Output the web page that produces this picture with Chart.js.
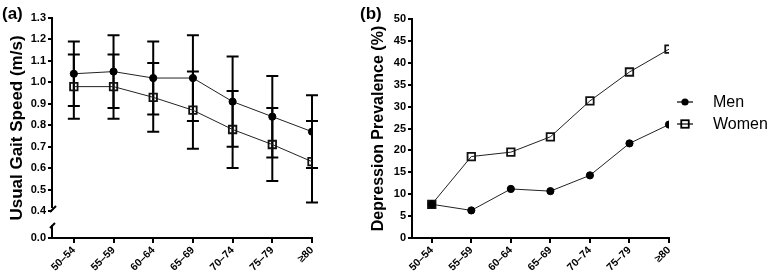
<!DOCTYPE html>
<html>
<head>
<meta charset="utf-8">
<script src="https://cdn.jsdelivr.net/npm/chart.js@4.4.1/dist/chart.umd.min.js"></script>
<style>
  html, body { margin: 0; padding: 0; background: #fff; }
  #wrap { position: relative; width: 770px; height: 278px; }
  #ca { position: absolute; left: 0; top: 0; }
  #cb { position: absolute; left: 340px; top: 0; }
</style>
</head>
<body>
<div id="wrap">
  <canvas id="ca" width="340" height="278"></canvas>
  <canvas id="cb" width="430" height="278"></canvas>
</div>
<script>
const ageGroups = ["50\u201354", "55\u201359", "60\u201364", "65\u201369", "70\u201374", "75\u201379", "\u226580"];

// (a) usual gait speed, mean and SD
const gaitMen = [1.04, 1.05, 1.02, 1.02, 0.91, 0.84, 0.77];
const gaitMenSD = [0.15, 0.17, 0.17, 0.20, 0.21, 0.19, 0.17];
const gaitWomen = [0.98, 0.98, 0.93, 0.87, 0.78, 0.71, 0.63];
const gaitWomenSD = [0.15, 0.15, 0.16, 0.18, 0.18, 0.17, 0.19];
const gaitTicks = [0.4, 0.5, 0.6, 0.7, 0.8, 0.9, 1.0, 1.1, 1.2, 1.3];

// (b) depression prevalence, %
const depMen = [7.7, 6.3, 11.2, 10.7, 14.3, 21.6, 25.9];
const depWomen = [7.7, 18.6, 19.6, 23.1, 31.3, 37.9, 43.1];
const depTicks = [0, 5, 10, 15, 20, 25, 30, 35, 40, 45, 50];

// value used as the "0.0" position below the axis break
const BREAK_VALUE = 0.274;

const FONT = "'Liberation Sans', Arial, sans-serif";
const toXY = (arr) => arr.map((v, i) => ({ x: i, y: v }));

function xScale(min) {
  return {
    type: "linear",
    min: min,
    max: ageGroups.length - 1,
    afterBuildTicks: (s) => { s.ticks = ageGroups.map((_, i) => ({ value: i })); },
    afterFit: (s) => { s.height = 40; },
    ticks: {
      callback: (v) => ageGroups[v],
      minRotation: 45,
      maxRotation: 45,
      padding: 1,
      color: "#000",
      font: { family: FONT, size: 10.5, weight: "bold" },
    },
    grid: { drawOnChartArea: false, drawTicks: true, tickLength: 5, color: "#000", lineWidth: 2 },
    border: { display: true, color: "#000", width: 2 },
  };
}

function menSet(data) {
  return {
    label: "Men", data: data,
    borderColor: "#222", borderWidth: 1,
    pointStyle: "circle", pointRadius: 3.6, pointBorderWidth: 1,
    pointBackgroundColor: "#000", pointBorderColor: "#000",
  };
}
function womenSet(data) {
  return {
    label: "Women", data: data,
    borderColor: "#222", borderWidth: 1,
    pointStyle: "rect", pointRadius: 5.3, pointBorderWidth: 1.8,
    pointBackgroundColor: "rgba(0,0,0,0)", pointBorderColor: "#111",
  };
}

const panelLabel = (text, x) => ({
  id: "panelLabel",
  afterDraw(chart) {
    const ctx = chart.ctx;
    ctx.save();
    ctx.fillStyle = "#000";
    ctx.font = "bold 17px " + FONT;
    ctx.textBaseline = "alphabetic";
    ctx.fillText(text, x, 19);
    ctx.restore();
  },
});

const errorBars = {
  id: "errorBars",
  beforeDatasetsDraw(chart) {
    const ctx = chart.ctx;
    const ys = chart.scales.y;
    const xs = chart.scales.x;
    const sets = [[gaitMen, gaitMenSD], [gaitWomen, gaitWomenSD]];
    ctx.save();
    ctx.strokeStyle = "#000";
    ctx.lineWidth = 2;
    sets.forEach(([m, sd]) => {
      m.forEach((v, i) => {
        const x = xs.getPixelForValue(i);
        const top = ys.getPixelForValue(v + sd[i]);
        const bot = ys.getPixelForValue(v - sd[i]);
        ctx.beginPath();
        ctx.moveTo(x, top); ctx.lineTo(x, bot);
        ctx.moveTo(x - 6, top); ctx.lineTo(x + 6, top);
        ctx.moveTo(x - 6, bot); ctx.lineTo(x + 6, bot);
        ctx.stroke();
      });
    });
    ctx.restore();
  },
};

const brokenAxis = {
  id: "brokenAxis",
  afterDraw(chart) {
    const ctx = chart.ctx;
    const ys = chart.scales.y;
    const x = chart.chartArea.left;
    const y04 = ys.getPixelForValue(0.4);
    const y0 = ys.getPixelForValue(BREAK_VALUE);
    ctx.save();
    ctx.strokeStyle = "#000";
    ctx.lineWidth = 2;
    ctx.beginPath();
    ctx.moveTo(x, chart.chartArea.top - 1);
    ctx.lineTo(x, y04 - 3);
    ctx.moveTo(x - 2, y04 + 1);
    ctx.lineTo(x + 4, y04 - 5);
    ctx.moveTo(x - 2, y0 - 10);
    ctx.lineTo(x + 3, y0 - 15);
    ctx.moveTo(x, y0 - 13);
    ctx.lineTo(x, y0 + 1);
    ctx.stroke();
    ctx.restore();
  },
};

new Chart(document.getElementById("ca"), {
  type: "line",
  data: { datasets: [menSet(toXY(gaitMen)), womenSet(toXY(gaitWomen))] },
  options: {
    responsive: false,
    animation: false,
    layout: { padding: { top: 18, right: 28, left: 0, bottom: 0 } },
    plugins: { legend: { display: false }, tooltip: { enabled: false } },
    scales: {
      x: xScale(-0.55),
      y: {
        type: "linear",
        min: BREAK_VALUE,
        max: 1.3,
        afterBuildTicks: (s) => { s.ticks = [BREAK_VALUE, ...gaitTicks].map((v) => ({ value: v })); },
        afterFit: (s) => { s.width = 52; },
        ticks: {
          callback: (v) => (v === BREAK_VALUE ? "0.0" : v.toFixed(1)),
          padding: 2,
          color: "#000",
          font: { family: FONT, size: 11, weight: "bold" },
        },
        grid: { drawOnChartArea: false, drawTicks: true, tickLength: 4, color: "#000", lineWidth: 2 },
        border: { display: false },
        title: {
          display: true,
          text: "Usual Gait Speed (m/s)",
          color: "#000",
          font: { family: FONT, size: 17, weight: "bold" },
          padding: { top: 7, bottom: 0 },
        },
      },
    },
  },
  plugins: [errorBars, brokenAxis, panelLabel("(a)", 2)],
});

const lineLegend = {
  id: "lineLegend",
  afterDraw(chart) {
    const ctx = chart.ctx;
    const lx = chart.chartArea.right + 16;
    const rows = [102, 124];
    ctx.save();
    chart.data.datasets.forEach((ds, i) => {
      const y = rows[i];
      ctx.strokeStyle = "#000";
      ctx.lineWidth = 1.2;
      ctx.beginPath();
      ctx.moveTo(lx - 8, y); ctx.lineTo(lx + 8, y);
      ctx.stroke();
      ctx.lineWidth = ds.pointBorderWidth;
      if (ds.pointStyle === "circle") {
        ctx.fillStyle = "#000";
        ctx.beginPath();
        ctx.arc(lx, y, ds.pointRadius, 0, Math.PI * 2);
        ctx.fill();
      } else {
        const h = ds.pointRadius * Math.SQRT1_2;
        ctx.strokeRect(lx - h, y - h, 2 * h, 2 * h);
      }
      ctx.fillStyle = "#000";
      ctx.font = "16px " + FONT;
      ctx.textBaseline = "middle";
      ctx.fillText(ds.label, lx + 28, y + 1);
    });
    ctx.restore();
  },
};

new Chart(document.getElementById("cb"), {
  type: "line",
  data: { datasets: [menSet(toXY(depMen)), womenSet(toXY(depWomen))] },
  options: {
    responsive: false,
    animation: false,
    layout: { padding: { top: 19, right: 101, left: 0, bottom: 0 } },
    plugins: { legend: { display: false }, tooltip: { enabled: false } },
    scales: {
      x: xScale(-0.5),
      y: {
        type: "linear",
        min: 0,
        max: 50,
        afterBuildTicks: (s) => { s.ticks = depTicks.map((v) => ({ value: v })); },
        afterFit: (s) => { s.width = 72; },
        ticks: {
          padding: 2,
          color: "#000",
          font: { family: FONT, size: 11, weight: "bold" },
        },
        grid: { drawOnChartArea: false, drawTicks: true, tickLength: 4, color: "#000", lineWidth: 2 },
        border: { display: true, color: "#000", width: 2 },
        title: {
          display: true,
          text: "Depression Prevalence (%)",
          color: "#000",
          font: { family: FONT, size: 16, weight: "bold" },
          padding: { top: 29, bottom: 0 },
        },
      },
    },
  },
  plugins: [lineLegend, panelLabel("(b)", 20)],
});
</script>
</body>
</html>
